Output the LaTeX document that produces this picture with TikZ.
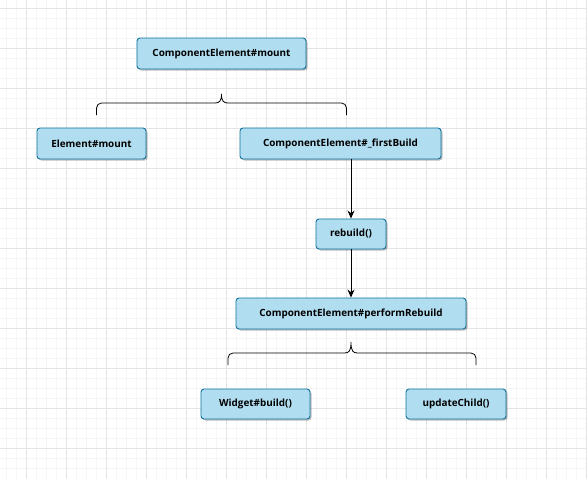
\documentclass[tikz,border=0pt]{standalone}
\usepackage{fontspec}
\setmainfont{Open Sans}
\usetikzlibrary{shadows,arrows.meta}
\definecolor{boxfill}{HTML}{B1DDF0}
\definecolor{boxline}{HTML}{10739E}
\definecolor{gridminor}{HTML}{F5F5F5}
\definecolor{gridmajor}{HTML}{E4E4E4}
\begin{document}
\begin{tikzpicture}[x=1pt,y=-1pt,
  box/.style={draw=boxline,fill=boxfill,line width=0.9pt,rounded corners=3pt,
    minimum height=31pt,inner sep=0pt,font=\bfseries\fontsize{9.9}{11}\selectfont,
    drop shadow={shadow xshift=1.5pt,shadow yshift=-1.5pt,opacity=0.25,fill=black}},
  brace/.style={draw=black,line width=0.8pt},
  arr/.style={draw=black,line width=0.9pt,-{Stealth[length=8pt,width=7pt]}}]
\useasboundingbox (0,0) rectangle (587,479);
\fill[white] (0,0) rectangle (587,479);
\foreach \x in {6,16,...,586} \draw[gridminor,line width=0.6pt] (\x,0) -- (\x,479);
\foreach \y in {8.5,18.5,...,478} \draw[gridminor,line width=0.6pt] (0,\y) -- (587,\y);
\foreach \x in {26,66,...,586} \draw[gridmajor,line width=0.6pt] (\x,0) -- (\x,479);
\foreach \y in {8.5,48.5,...,478} \draw[gridmajor,line width=0.6pt] (0,\y) -- (587,\y);

\node[box,minimum width=169pt] (cem) at (221.5,53.5) {ComponentElement\#mount};
\node[box,minimum width=109pt] (em) at (91.5,143.5) {Element\#mount};
\node[box,minimum width=201pt] (fb) at (340.5,143.5) {ComponentElement\#\_firstBuild};
\node[box,minimum width=70pt,minimum height=30pt] (rb) at (351,234) {rebuild()};
\node[box,minimum width=230pt] (pr) at (351,313.5) {ComponentElement\#performRebuild};
\node[box,minimum width=109pt,minimum height=30pt] (wb) at (255.5,404) {Widget\#build()};
\node[box,minimum width=100pt,minimum height=30pt] (uc) at (456,404) {updateChild()};

% brace 1
\coordinate (b1l) at (96.5,115);
\coordinate (b1r) at (346.5,115);
\coordinate (b1t) at (221.5,94);
\draw[brace] (b1l) -- (96.5,108) arc[start angle=180,end angle=270,radius=5] -- (215,103)
  .. controls (219.5,103) and (221.5,101) .. (b1t)
  .. controls (221.5,101) and (223.5,103) .. (228,103) -- (341.5,103)
  arc[start angle=270,end angle=360,radius=5] -- (b1r);
% brace 2
\coordinate (b2l) at (228,365);
\coordinate (b2r) at (476,365);
\coordinate (b2t) at (351,342);
\draw[brace] (b2l) -- (228,358) arc[start angle=180,end angle=270,radius=5] -- (344.5,353)
  .. controls (349,353) and (351,351) .. (b2t)
  .. controls (351,351) and (353,353) .. (357.5,353) -- (471,353)
  arc[start angle=270,end angle=360,radius=5] -- (b2r);

\draw[arr] (fb.south -| rb) -- (rb.north);
\draw[arr] (rb.south) -- (pr.north);
\end{tikzpicture}
\end{document}
